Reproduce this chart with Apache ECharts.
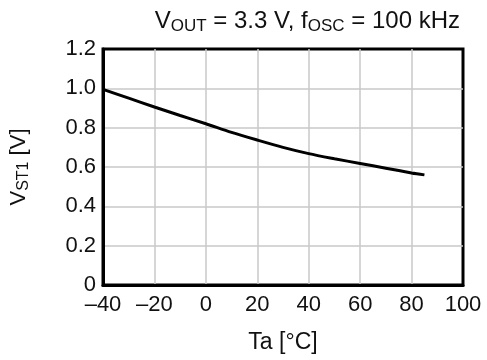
<!DOCTYPE html>
<html><head><meta charset="utf-8">
<script src="https://cdn.jsdelivr.net/npm/echarts@6/dist/echarts.min.js"></script>
<style>html,body{margin:0;padding:0;background:#fff}#c{width:487px;height:360px}</style>
</head><body><div id="c"></div>
<script>
const temps = [-40, -30, -20, -10, 0, 10, 20, 30, 40, 50, 60, 70, 80, 85];
const vst1  = [0.995, 0.95, 0.905, 0.862, 0.82, 0.776, 0.737, 0.70, 0.668, 0.642, 0.618, 0.594, 0.57, 0.56];
const xTicks = {min: -40, max: 100, step: 20};
const yTicks = {min: 0, max: 1.2, step: 0.2};

const FONT = 'Liberation Sans, Arial, sans-serif';
const titleRich = {
  n: {fontFamily: FONT, fontSize: 24, fontWeight: 'normal', color: '#111', lineHeight: 28, verticalAlign: 'bottom'},
  s: {fontFamily: FONT, fontSize: 17, fontWeight: 'normal', color: '#111', lineHeight: 28, verticalAlign: 'bottom', padding: [0,0,-2,0]}
};
const nameRich = {
  n: {fontFamily: FONT, fontSize: 22, fontWeight: 'normal', color: '#111', lineHeight: 26, verticalAlign: 'bottom'},
  s: {fontFamily: FONT, fontSize: 16, fontWeight: 'normal', color: '#111', lineHeight: 26, verticalAlign: 'bottom', padding: [0,0,-2,0]}
};
const chart = echarts.init(document.getElementById('c'), null, {renderer: 'canvas'});
chart.setOption({
  animation: false,
  backgroundColor: '#fff',
  title: {
    text: '{n|V}{s|OUT}{n| = 3.3 V, f}{s|OSC}{n| = 100 kHz}',
    right: 22, top: 0,
    textStyle: {fontWeight: 'normal', rich: titleRich}
  },
  grid: {left: 102, right: 24, top: 49, bottom: 75, show: true, borderColor: '#000', borderWidth: 3, containLabel: false},
  xAxis: {
    type: 'value', min: xTicks.min, max: xTicks.max, interval: xTicks.step,
    name: 'Ta [°C]', nameLocation: 'middle', nameGap: 46,
    nameTextStyle: {fontFamily: FONT, fontSize: 23, color: '#111'},
    axisLine: {show: true, onZero: false, lineStyle: {color: '#000', width: 3}},
    axisTick: {show: false},
    axisLabel: {fontFamily: FONT, fontSize: 22, color: '#111', margin: 9,
      formatter: v => v < 0 ? '\u2013' + Math.abs(v) : String(v)},
    splitLine: {show: true, showMinLine: false, showMaxLine: false, lineStyle: {color: '#c8c8c8', width: 1.5}}
  },
  yAxis: {
    type: 'value', min: yTicks.min, max: yTicks.max, interval: yTicks.step,
    name: '{n|V}{s|ST1}{n| [V]}', nameLocation: 'middle', nameGap: 73, nameRotate: 90,
    nameTextStyle: {rich: nameRich},
    axisLine: {show: true, onZero: false, lineStyle: {color: '#000', width: 3}},
    axisTick: {show: false},
    axisLabel: {fontFamily: FONT, fontSize: 22, color: '#111', margin: 7,
      formatter: v => v === 0 ? '0' : v.toFixed(1)},
    splitLine: {show: true, showMinLine: false, showMaxLine: false, lineStyle: {color: '#c8c8c8', width: 1.5}}
  },
  series: [{
    type: 'line', smooth: 0.3, showSymbol: false,
    data: temps.map((t, i) => [t, vst1[i]]),
    lineStyle: {color: '#000', width: 3}
  }]
});
</script></body></html>
